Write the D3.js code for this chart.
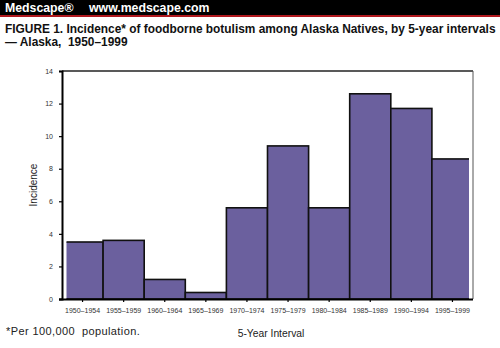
<!DOCTYPE html>
<html><head><meta charset="utf-8">
<script src="https://cdn.jsdelivr.net/npm/d3@7"></script>
<style>body{margin:0;background:#fff}svg{display:block}</style>
</head><body>
<svg id="c" width="500" height="348"></svg>
<script>
const categories = ["1950–1954","1955–1959","1960–1964","1965–1969","1970–1974","1975–1979","1980–1984","1985–1989","1990–1994","1995–1999"];
const incidence = [3.5, 3.6, 1.2, 0.4, 5.6, 9.4, 5.6, 12.6, 11.7, 8.6];
const yTicks = [0, 2, 4, 6, 8, 10, 12, 14];

const svg = d3.select("#c");
const F = "Arial, 'Liberation Sans', Helvetica, sans-serif";

// header
svg.append("rect").attr("x",0).attr("y",0).attr("width",500).attr("height",15).attr("fill","#000");
svg.append("rect").attr("x",0).attr("y",15).attr("width",500).attr("height",2).attr("fill","#b0181e");
svg.append("text").attr("x",5).attr("y",12).attr("fill","#fff").attr("font-family",F).attr("font-weight","bold").attr("font-size",12.3).text("Medscape®");
svg.append("text").attr("x",89).attr("y",12).attr("fill","#fff").attr("font-family",F).attr("font-weight","bold").attr("font-size",12.3).text("www.medscape.com");

// title
svg.append("text").attr("x",5).attr("y",33).attr("font-family",F).attr("font-weight","bold").attr("font-size",11.9).attr("fill","#111").text("FIGURE 1. Incidence* of foodborne botulism among Alaska Natives, by 5-year intervals");
svg.append("text").attr("x",5).attr("y",46).attr("font-family",F).attr("font-weight","bold").attr("font-size",11.9).attr("fill","#111").attr("xml:space","preserve").style("white-space","pre").text("— Alaska,  1950–1999");

const L = 62, R = 473, T = 71, B = 299;
const x = d3.scaleBand().domain(categories).range([L, R]).padding(0);
const y = d3.scaleLinear().domain([0, 14]).range([B, T]);

svg.append("defs").append("clipPath").attr("id","clip")
  .append("rect").attr("x",66.5).attr("y",T-5).attr("width",469-66.5).attr("height",B-T+10);

// frame top & right
svg.append("line").attr("x1",L).attr("x2",R).attr("y1",T).attr("y2",T).attr("stroke","#222").attr("stroke-width",1.5);
svg.append("line").attr("x1",R).attr("x2",R).attr("y1",T).attr("y2",B).attr("stroke","#555").attr("stroke-width",1);

// bars
svg.append("g").attr("clip-path","url(#clip)").selectAll("rect").data(incidence).join("rect")
  .attr("x",(d,i)=>x(categories[i]))
  .attr("y",d=>y(d))
  .attr("width",x.bandwidth())
  .attr("height",d=>B-y(d))
  .attr("fill","#6b609e").attr("stroke","#111").attr("stroke-width",1.6);

// y axis
const ya = svg.append("g").attr("transform",`translate(${L},0)`)
  .call(d3.axisLeft(y).tickValues(yTicks).tickSize(3).tickPadding(6));
ya.select(".domain").attr("stroke","#000").attr("stroke-width",2);
ya.selectAll("text").attr("font-family",F).attr("font-size",7).attr("fill","#333");
ya.selectAll(".tick line").attr("stroke","#000").attr("stroke-width",1.2);

// x axis
const xa = svg.append("g").attr("transform",`translate(0,${B})`)
  .call(d3.axisBottom(x).tickSize(3).tickPadding(6).tickSizeOuter(0));
xa.select(".domain").attr("stroke","#000").attr("stroke-width",2).attr("d",`M${L-3},0.5H${R}`);
xa.selectAll("text").attr("font-family",F).attr("font-size",7).attr("fill","#333");
xa.selectAll(".tick line").attr("stroke","#000").attr("stroke-width",1.2);

// labels
svg.append("text").attr("transform","translate(37,185) rotate(-90)").attr("text-anchor","middle")
  .attr("font-family",F).attr("font-size",10).attr("fill","#222").text("Incidence");
svg.append("text").attr("x",271).attr("y",337).attr("text-anchor","middle")
  .attr("font-family",F).attr("font-size",10.3).attr("fill","#222").text("5-Year Interval");
svg.append("text").attr("x",6).attr("y",335).attr("letter-spacing",0.4)
  .attr("font-family",F).attr("font-size",11).attr("fill","#222").attr("xml:space","preserve").style("white-space","pre").text("*Per 100,000  population.");
</script>
</body></html>
